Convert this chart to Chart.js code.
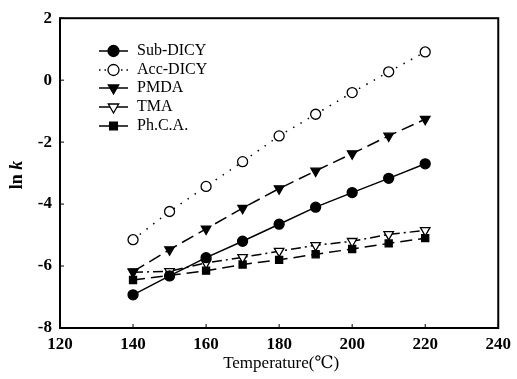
<!DOCTYPE html>
<html>
<head>
<meta charset="utf-8">
<script src="https://cdn.jsdelivr.net/npm/chart.js@4/dist/chart.umd.min.js"></script>
<style>
  html, body { margin: 0; padding: 0; background: #fff; }
  #wrap { width: 517px; height: 379px; }
</style>
</head>
<body>
<div id="wrap"><canvas id="lnkChart" width="517" height="379"></canvas></div>
<script>
// data
const temps = [140, 150, 160, 170, 180, 190, 200, 210, 220];
const subDicy = [-6.93, -6.32, -5.73, -5.2, -4.65, -4.1, -3.63, -3.17, -2.7];
const accDicy = [-5.15, -4.24, -3.43, -2.63, -1.8, -1.1, -0.4, 0.27, 0.91];
const pmda = [-6.18, -5.47, -4.8, -4.13, -3.5, -2.93, -2.37, -1.8, -1.26];
const tma = [-6.2, -6.17, -5.9, -5.72, -5.52, -5.33, -5.2, -4.98, -4.85];
const phca = [-6.45, -6.3, -6.15, -5.95, -5.8, -5.62, -5.45, -5.27, -5.1];
const xTicks = [120, 140, 160, 180, 200, 220, 240];
const yTicks = [-8, -6, -4, -2, 0, 2];

const serif = "'Liberation Serif', 'DejaVu Serif', serif";

function pts(ys) {
    return temps.map(function(t, i) { return { x: t, y: ys[i] }; });
}

function series(label, ys, dash, style, filled, rot, r) {
    return {
        label: label,
        data: pts(ys),
        borderColor: '#000',
        borderWidth: 1.5,
        borderDash: dash,
        pointStyle: style,
        pointRotation: rot,
        pointRadius: r,
        pointBorderWidth: 1.3,
        pointBorderColor: '#000',
        pointBackgroundColor: filled ? '#000' : '#fff',
        tension: 0,
        fill: false
    };
}

// frame, inward ticks, axis titles and legend
const framePlugin = {
    id: 'frame',
    afterDraw: function(chart) {
        const ctx = chart.ctx;
        const a = chart.chartArea;
        const xs = chart.scales.x, ys = chart.scales.y;
        ctx.save();
        ctx.strokeStyle = '#000';
        ctx.lineWidth = 2;
        ctx.strokeRect(a.left, a.top, a.right - a.left, a.bottom - a.top);
        ctx.lineWidth = 1;
        xTicks.forEach(function(v) {
            const px = xs.getPixelForValue(v);
            ctx.beginPath();
            ctx.moveTo(px, a.bottom);
            ctx.lineTo(px, a.bottom - 4);
            ctx.stroke();
        });
        yTicks.forEach(function(v) {
            const py = ys.getPixelForValue(v);
            ctx.beginPath();
            ctx.moveTo(a.left, py);
            ctx.lineTo(a.left + 4, py);
            ctx.stroke();
        });

        // x title
        ctx.fillStyle = '#000';
        ctx.font = '17px ' + serif;
        ctx.textAlign = 'center';
        ctx.textBaseline = 'middle';
        ctx.fillText('Temperature(\u2103)', (a.left + a.right) / 2 + 2, 364);

        // y title: "ln k" with italic k
        ctx.save();
        ctx.translate(17, (a.top + a.bottom) / 2 + 2);
        ctx.rotate(-Math.PI / 2);
        ctx.textAlign = 'left';
        const f1 = 'bold 18px ' + serif, f2 = 'italic bold 18px ' + serif;
        ctx.font = f1;
        const w1 = ctx.measureText('ln ').width;
        ctx.font = f2;
        const w2 = ctx.measureText('k').width;
        const x0 = -(w1 + w2) / 2;
        ctx.font = f1;
        ctx.fillText('ln ', x0, 0);
        ctx.font = f2;
        ctx.fillText('k', x0 + w1, 0);
        ctx.restore();

        // legend
        const legendY = [51, 70, 88, 107, 126];
        chart.data.datasets.forEach(function(ds, i) {
            const y = legendY[i];
            ctx.save();
            ctx.strokeStyle = '#000';
            ctx.lineWidth = ds.borderWidth;
            ctx.setLineDash(ds.label === 'Acc-DICY' ? [1.5, 4] : []);
            ctx.beginPath();
            ctx.moveTo(99, y);
            ctx.lineTo(128, y);
            ctx.stroke();
            ctx.setLineDash([]);
            ctx.fillStyle = ds.pointBackgroundColor;
            ctx.strokeStyle = '#000';
            ctx.lineWidth = ds.pointBorderWidth;
            Chart.helpers.drawPoint(ctx, {
                pointStyle: ds.pointStyle,
                radius: ds.pointRadius + 0.5,
                rotation: ds.pointRotation,
                borderWidth: ds.pointBorderWidth
            }, 113.5, y);
            ctx.restore();
            ctx.font = '16px ' + serif;
            ctx.textAlign = 'left';
            ctx.textBaseline = 'middle';
            ctx.fillStyle = '#000';
            ctx.fillText(ds.label, 137, y);
        });
        ctx.restore();
    }
};

const ctxEl = document.getElementById('lnkChart');
const chart = new Chart(ctxEl, {
    type: 'line',
    data: {
        datasets: [
            series('Sub-DICY', subDicy, [], 'circle', true, 0, 5),
            series('Acc-DICY', accDicy, [1.5, 7], 'circle', false, 0, 5),
            series('PMDA', pmda, [13, 6], 'triangle', true, 180, 5.5),
            series('TMA', tma, [10, 4, 2, 4], 'triangle', false, 180, 5.5),
            series('Ph.C.A.', phca, [12, 6], 'rect', true, 0, 5)
        ]
    },
    options: {
        responsive: false,
        animation: false,
        layout: { padding: { top: 15, right: 16, left: 0, bottom: 0 } },
        plugins: {
            legend: { display: false },
            tooltip: { enabled: false }
        },
        scales: {
            x: {
                type: 'linear',
                min: 120,
                max: 240,
                afterFit: function(s) { s.height = 51; },
                afterBuildTicks: function(s) { s.ticks = xTicks.map(function(v) { return { value: v }; }); },
                grid: { display: false, drawTicks: false },
                border: { display: false },
                ticks: {
                    padding: 6,
                    color: '#000',
                    font: { family: serif, size: 17, weight: 'bold' }
                }
            },
            y: {
                min: -8,
                max: 2,
                afterFit: function(s) { s.width = 60; },
                afterBuildTicks: function(s) { s.ticks = yTicks.map(function(v) { return { value: v }; }); },
                grid: { display: false, drawTicks: false },
                border: { display: false },
                ticks: {
                    padding: 8,
                    color: '#000',
                    font: { family: serif, size: 17, weight: 'bold' }
                }
            }
        }
    },
    plugins: [framePlugin]
});
</script>
</body>
</html>
